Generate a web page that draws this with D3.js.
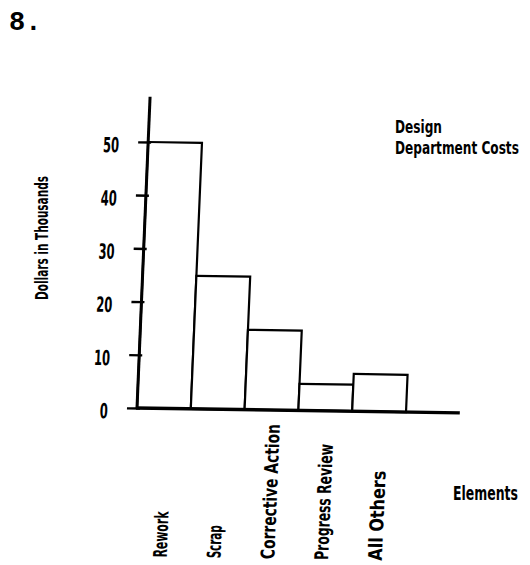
<!DOCTYPE html>
<html>
<head>
<meta charset="utf-8">
<script src="https://cdn.jsdelivr.net/npm/d3@7/dist/d3.min.js"></script>
<style>
  html, body { margin: 0; padding: 0; background: #fff; }
  svg { display: block; }
  .pf { font-family: "DejaVu Sans Condensed", "Liberation Sans Narrow", "Arial Narrow", sans-serif; font-weight: bold; fill: #000; }
</style>
</head>
<body>
<script>
// ---- data ----
const categories = ["Rework", "Scrap", "Corrective Action", "Progress Review", "All Others"];
const values = [50, 25, 15, 5, 7];
const yTicks = [0, 10, 20, 30, 40, 50];
const yTickLabels = ["0", "10", "20", "30", "40", "50"];
const titleLines = ["Design", "Department Costs"];
const yAxisTitle = "Dollars in Thousands";
const xAxisTitle = "Elements";
const pageNumber = "8.";

// ---- layout ----
const W = 530, H = 565;
const x0 = 137, y0 = 408;
const svg = d3.select("body").append("svg").attr("width", W).attr("height", H);
svg.append("rect").attr("width", W).attr("height", H).attr("fill", "#fff");

const y = d3.scaleLinear().domain([0, 50]).range([y0, 142]);
const x = d3.scaleBand().domain(categories).range([x0, 406]).padding(0);

// condense a text horizontally (in its own frame) to a target length
function fit(sel, base, target) {
  sel.each(function (d, i) {
    const w = this.getComputedTextLength();
    const len = typeof target === "function" ? target(d, i) : target;
    const b = typeof base === "function" ? base(d, i) : base;
    d3.select(this).attr("transform", `${b} scale(${len / w},1)`);
  });
}

// slight skew like the scanned original
const k = 0.042, s = 0.015;
const g = svg.append("g")
  .attr("transform", `matrix(1,${s},${-k},1,${y0 * k},${-x0 * s})`);

// bars
g.selectAll("rect.bar").data(values).join("rect")
  .attr("class", "bar")
  .attr("x", (d, i) => x(categories[i]))
  .attr("y", d => y(d))
  .attr("width", x.bandwidth())
  .attr("height", d => y(0) - y(d))
  .attr("fill", "#fff")
  .attr("stroke", "#000")
  .attr("stroke-width", 2.2);

// y axis with ticks
const yAxis = d3.axisLeft(y).tickValues(yTicks)
  .tickFormat((d, i) => yTickLabels[i]).tickSize(10).tickPadding(0);
const ya = g.append("g").attr("transform", `translate(${x0},0)`).call(yAxis);
ya.select(".domain").remove();
ya.selectAll(".tick line").attr("x1", 3).attr("stroke", "#000").attr("stroke-width", 2.4);
const tl = ya.selectAll(".tick text").attr("class", "pf").attr("font-size", 21)
  .attr("x", 0).attr("dy", "0.4em").attr("text-anchor", "end");
fit(tl, "translate(-29,2)", (d, i) => yTickLabels[i].length * 8);

// axis lines
g.append("line").attr("x1", x0).attr("x2", x0)
  .attr("y1", y(0) + 1).attr("y2", y(58.5))
  .attr("stroke", "#000").attr("stroke-width", 3);
g.append("line").attr("x1", x0 - 1).attr("x2", x.range()[1] + x.bandwidth())
  .attr("y1", y(0)).attr("y2", y(0))
  .attr("stroke", "#000").attr("stroke-width", 3.4);

// category labels (rotated, bottom aligned)
const labelLengths = [46, 33, 135, 116, 90];
const cat = g.selectAll("text.cat").data(categories).join("text")
  .attr("class", "cat pf")
  .attr("font-size", 19)
  .attr("text-anchor", "start")
  .text(d => d);
fit(cat, d => `translate(${x(d) + x.bandwidth() / 2 + 9},557) rotate(-90)`, (d, i) => labelLengths[i]);

// y axis title
const yt = svg.append("text").attr("class", "pf").attr("font-size", 18)
  .attr("text-anchor", "middle").text(yAxisTitle);
fit(yt, "translate(48,238) rotate(-90)", 124);

// x axis title
const xt = svg.append("text").attr("class", "pf").attr("font-size", 20).text(xAxisTitle);
fit(xt, "translate(453,500)", 65);

// chart title (top right)
const t1 = svg.append("text").attr("class", "pf").attr("font-size", 17).text(titleLines[0]);
fit(t1, "translate(395,133)", 47);
const t2 = svg.append("text").attr("class", "pf").attr("font-size", 17).text(titleLines[1]);
fit(t2, "translate(395,154)", 124);

// page number
svg.append("text").attr("font-family", "'Liberation Mono', 'DejaVu Sans Mono', monospace")
  .attr("font-weight", "bold").attr("font-size", 27)
  .attr("x", 9).attr("y", 30).text(pageNumber);
</script>
</body>
</html>
